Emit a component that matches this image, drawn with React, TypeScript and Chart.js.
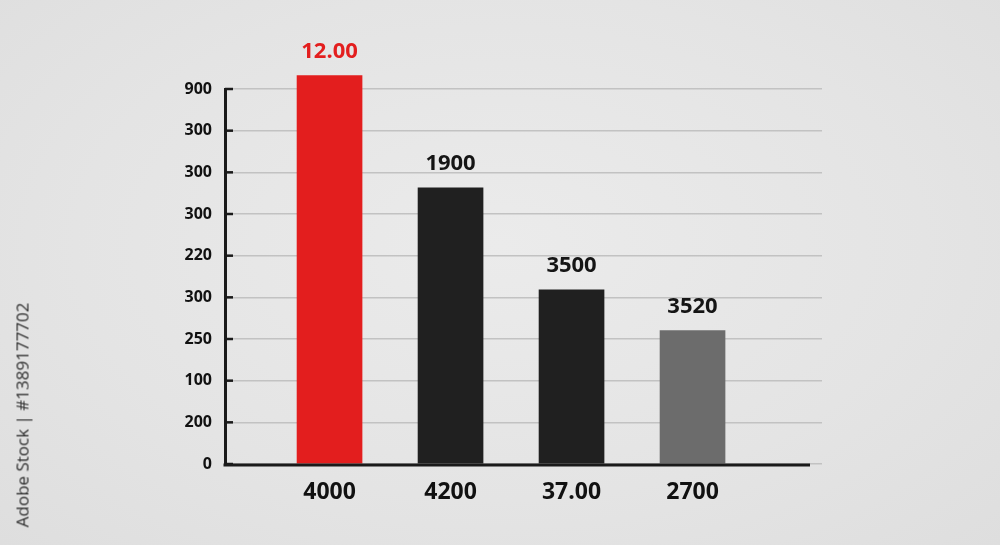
import React, { useEffect, useRef } from "react";
import { Chart, registerables } from "chart.js";

Chart.register(...registerables);

const xLabels = ["4000", "4200", "37.00", "2700"];
const barValues = [9.32, 6.63, 4.18, 3.2];
const barLabels = ["12.00", "1900", "3500", "3520"];
const barColors = ["#e31e1e", "#202020", "#202020", "#6c6c6c"];
const labelColors = ["#e31e1e", "#151515", "#151515", "#151515"];
const yTickLabels = ["0", "200", "100", "250", "300", "220", "300", "300", "300", "900"];

const FONT = "'Open Sans', 'Noto Sans', sans-serif";

export default function App() {
  const canvasRef = useRef<HTMLCanvasElement | null>(null);

  useEffect(() => {
    const canvas = canvasRef.current;
    if (!canvas) return;

    const decorPlugin = {
      id: "decor",
      afterDraw(chart: any) {
        const ctx = chart.ctx;
        const { left, bottom } = chart.chartArea;
        const y = chart.scales.y;
        ctx.save();
        // inward tick marks
        ctx.strokeStyle = "#1a1a1a";
        ctx.lineWidth = 2.5;
        y.ticks.forEach((t: any) => {
          const py = y.getPixelForValue(t.value);
          ctx.beginPath();
          ctx.moveTo(left, py);
          ctx.lineTo(left + 8, py);
          ctx.stroke();
        });
        // bottom axis line
        ctx.lineWidth = 3;
        ctx.beginPath();
        ctx.moveTo(left - 1.5, bottom + 1);
        ctx.lineTo(810, bottom + 1);
        ctx.stroke();
        ctx.restore();
      },
      afterDatasetsDraw(chart: any) {
        const ctx = chart.ctx;
        const meta = chart.getDatasetMeta(0);
        ctx.save();
        ctx.font = `700 22px ${FONT}`;
        ctx.textAlign = "center";
        ctx.textBaseline = "middle";
        meta.data.forEach((bar: any, i: number) => {
          ctx.fillStyle = labelColors[i];
          ctx.fillText(barLabels[i], bar.x, bar.y - 24);
        });
        ctx.restore();
      },
    };

    const chart = new Chart(canvas, {
      type: "bar",
      data: {
        datasets: [
          {
            data: barValues.map((v, i) => ({ x: i, y: v })),
            backgroundColor: barColors,
            borderWidth: 0,
            barThickness: 65,
            clip: false as any,
          },
        ],
      },
      options: {
        responsive: false,
        animation: false,
        maintainAspectRatio: false,
        layout: { padding: { left: 0, right: 178, top: 89, bottom: 0 } },
        plugins: { legend: { display: false }, tooltip: { enabled: false } },
        scales: {
          x: {
            type: "linear",
            offset: false,
            min: -0.864,
            max: 4.07,
            afterFit: (s: any) => {
              s.height = 81;
            },
            afterBuildTicks: (s: any) => {
              s.ticks = [0, 1, 2, 3].map((v) => ({ value: v }));
            },
            grid: { display: false, drawTicks: false },
            border: { display: false },
            ticks: {
              padding: 15,
              color: "#111",
              font: { family: FONT, size: 23, weight: "bold" as any },
              callback: (v: any) => xLabels[v as number] ?? "",
            },
          },
          y: {
            min: 0,
            max: 9,
            afterFit: (s: any) => {
              s.width = 225;
            },
            grid: { color: "#c2c2c2", lineWidth: 1.5, drawTicks: false },
            border: { display: true, color: "#1a1a1a", width: 3 },
            ticks: {
              stepSize: 1,
              padding: 13,
              color: "#111",
              font: { family: FONT, size: 16, weight: "bold" as any },
              callback: (v: any) => yTickLabels[v as number] ?? "",
            },
          },
        },
      },
      plugins: [decorPlugin],
    });

    return () => chart.destroy();
  }, []);

  return (
    <div
      style={{
        position: "fixed",
        left: 0,
        top: 0,
        width: 1000,
        height: 545,
        background: "radial-gradient(ellipse at 50% 45%, #ebebeb 0%, #e4e4e4 60%, #dedede 100%)",
        overflow: "hidden",
      }}
    >
      <canvas ref={canvasRef} width={1000} height={545} style={{ position: "absolute", left: 0, top: 0 }} />
      <div
        style={{
          position: "absolute",
          left: 22,
          top: 415,
          transform: "translate(-50%, -50%) rotate(-90deg)",
          whiteSpace: "nowrap",
          fontFamily: FONT,
          fontSize: 17,
          fontWeight: 500,
          color: "#2e2e2e",
        }}
      >
        Adobe Stock | #1389177702
      </div>
    </div>
  );
}
